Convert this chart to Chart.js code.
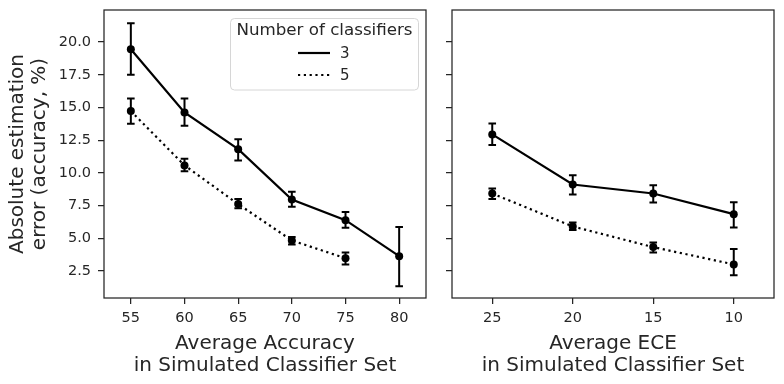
<!DOCTYPE html>
<html>
<head>
<meta charset="utf-8">
<script src="https://cdn.jsdelivr.net/npm/chart.js@4/dist/chart.umd.min.js"></script>
<style>
  html, body { margin: 0; padding: 0; background: #ffffff; }
  #wrap { position: relative; width: 784px; height: 384px; overflow: hidden; }
  canvas { position: absolute; top: 0; }
</style>
</head>
<body>
<div id="wrap">
  <canvas id="left" width="432" height="384" style="left:0px"></canvas>
  <canvas id="right" width="352" height="384" style="left:432px"></canvas>
</div>
<script>
// ---- data ----
const accCats = ['55', '60', '65', '70', '75', '80'];
const acc3   = [19.45, 14.62, 11.81, 7.96, 6.38, 3.63];
const acc3Lo = [17.50, 13.60, 10.95, 7.40, 5.80, 1.33];
const acc3Hi = [21.43, 15.69, 12.56, 8.55, 7.00, 5.85];
const acc5   = [14.72, 10.57, 7.61, 4.83, 3.47, null];
const acc5Lo = [13.75, 10.13, 7.30, 4.52, 3.00, null];
const acc5Hi = [15.69, 11.07, 7.99, 5.10, 3.90, null];

const eceCats = ['25', '20', '15', '10'];
const ece3   = [12.94, 9.11, 8.42, 6.84];
const ece3Lo = [12.12, 8.35, 7.73, 5.82];
const ece3Hi = [13.78, 9.82, 9.06, 7.76];
const ece5   = [8.42, 5.90, 4.32, 3.00];
const ece5Lo = [7.99, 5.62, 3.90, 2.16];
const ece5Hi = [8.80, 6.20, 4.67, 4.18];

const seriesLabels = ['3', '5'];
const legendTitle = 'Number of classifiers';
const yTitle = ['Absolute estimation', 'error (accuracy, %)'];
const xTitleLeft = ['Average Accuracy', 'in Simulated Classifier Set'];
const xTitleRight = ['Average ECE', 'in Simulated Classifier Set'];

// ---- style ----
const FONT = 'DejaVu Sans';
const INK = '#262626';
const Y_MIN = 0.43, Y_MAX = 22.45;
const TITLE_SIZE = 20;

const framePlugin = {
  id: 'frame',
  afterDraw(chart) {
    const {ctx, chartArea: a} = chart;
    ctx.save();
    ctx.strokeStyle = INK;
    ctx.lineWidth = 1.25;
    ctx.strokeRect(a.left, a.top, a.right - a.left, a.bottom - a.top);
    ctx.restore();
  }
};

const errPlugin = {
  id: 'errbars',
  beforeDatasetsDraw(chart) {
    const {ctx} = chart;
    const xs = chart.scales.x, ys = chart.scales.y;
    ctx.save();
    ctx.strokeStyle = '#000';
    ctx.lineWidth = 2;
    ctx.lineCap = 'butt';
    chart.data.datasets.forEach(ds => {
      ds.lo.forEach((lo, i) => {
        const hi = ds.hi[i];
        if (lo === null || hi === null) return;
        const x = xs.getPixelForValue(i);
        const y1 = ys.getPixelForValue(lo), y2 = ys.getPixelForValue(hi);
        ctx.beginPath();
        ctx.moveTo(x, y1); ctx.lineTo(x, y2);
        ctx.moveTo(x - 3.8, y1); ctx.lineTo(x + 3.8, y1);
        ctx.moveTo(x - 3.8, y2); ctx.lineTo(x + 3.8, y2);
        ctx.stroke();
      });
    });
    ctx.restore();
  }
};

const legendPlugin = {
  id: 'customLegend',
  afterDraw(chart) {
    const {ctx} = chart;
    const bx = 230.5, by = 18.5, bw = 188, bh = 71.5;
    ctx.save();
    ctx.beginPath();
    ctx.roundRect(bx, by, bw, bh, 4);
    ctx.fillStyle = 'rgba(255,255,255,0.8)';
    ctx.fill();
    ctx.strokeStyle = '#d6d6d6';
    ctx.lineWidth = 1;
    ctx.stroke();
    ctx.fillStyle = INK;
    ctx.textBaseline = 'middle';
    ctx.textAlign = 'center';
    ctx.font = '16.7px "' + FONT + '"';
    ctx.fillText(legendTitle, bx + bw / 2, 31);
    ctx.textAlign = 'left';
    ctx.font = '15px "' + FONT + '"';
    const rows = [53, 75];
    chart.data.datasets.forEach((ds, i) => {
      ctx.beginPath();
      ctx.strokeStyle = '#000';
      ctx.lineWidth = 2.2;
      ctx.setLineDash(ds.borderDash || []);
      ctx.moveTo(298, rows[i]); ctx.lineTo(330, rows[i]);
      ctx.stroke();
      ctx.setLineDash([]);
      ctx.fillText(ds.label, 340, rows[i] + 1);
    });
    ctx.restore();
  }
};

function makeDatasets(v3, lo3, hi3, v5, lo5, hi5) {
  const common = {
    borderColor: '#000', backgroundColor: '#000', borderWidth: 2.2,
    pointRadius: 4, pointHoverRadius: 4, pointBorderWidth: 0,
    pointBackgroundColor: '#000', tension: 0, spanGaps: false
  };
  return [
    Object.assign({label: seriesLabels[0], data: v3, lo: lo3, hi: hi3}, common),
    Object.assign({label: seriesLabels[1], data: v5, lo: lo5, hi: hi5, borderDash: [2.2, 3.6]}, common)
  ];
}

function makeOptions(showYLabels, yWidth, xTitle, padRight) {
  return {
    responsive: false,
    animation: false,
    devicePixelRatio: 1,
    layout: {padding: {top: 10, right: padRight, left: 0, bottom: 0}},
    plugins: {legend: {display: false}, tooltip: {enabled: false}},
    scales: {
      x: {
        type: 'category',
        offset: true,
        afterFit(s) { s.height = 86; s.paddingLeft = 0; s.paddingRight = 0; },
        grid: {display: true, drawOnChartArea: false, drawTicks: true, tickLength: 6,
               color: INK, lineWidth: 1.25, offset: false},
        border: {display: false},
        ticks: {color: INK, font: {family: FONT, size: 14.5}, padding: 6, maxRotation: 0, autoSkip: false},
        title: {display: true, text: xTitle, color: INK,
                font: {family: FONT, size: TITLE_SIZE, lineHeight: 22 / TITLE_SIZE}, padding: {top: 0, bottom: 7}}
      },
      y: {
        min: Y_MIN, max: Y_MAX,
        afterFit(s) { s.width = yWidth; s.paddingTop = 0; s.paddingBottom = 0; },
        grid: {display: true, drawOnChartArea: false, drawTicks: true, tickLength: 6,
               color: INK, lineWidth: 1.25},
        border: {display: false},
        ticks: {display: showYLabels, stepSize: 2.5, includeBounds: false, color: INK,
                font: {family: FONT, size: 14.5}, padding: 7,
                callback: v => Number(v).toFixed(1)},
        title: {display: showYLabels, text: yTitle, color: INK,
                font: {family: FONT, size: TITLE_SIZE, lineHeight: 22 / TITLE_SIZE}, padding: {top: 7, bottom: 0}}
      }
    }
  };
}

new Chart(document.getElementById('left'), {
  type: 'line',
  data: {labels: accCats, datasets: makeDatasets(acc3, acc3Lo, acc3Hi, acc5, acc5Lo, acc5Hi)},
  options: makeOptions(true, 104, xTitleLeft, 6),
  plugins: [errPlugin, framePlugin, legendPlugin]
});

new Chart(document.getElementById('right'), {
  type: 'line',
  data: {labels: eceCats, datasets: makeDatasets(ece3, ece3Lo, ece3Hi, ece5, ece5Lo, ece5Hi)},
  options: makeOptions(false, 20, xTitleRight, 10),
  plugins: [errPlugin, framePlugin]
});
</script>
</body>
</html>
